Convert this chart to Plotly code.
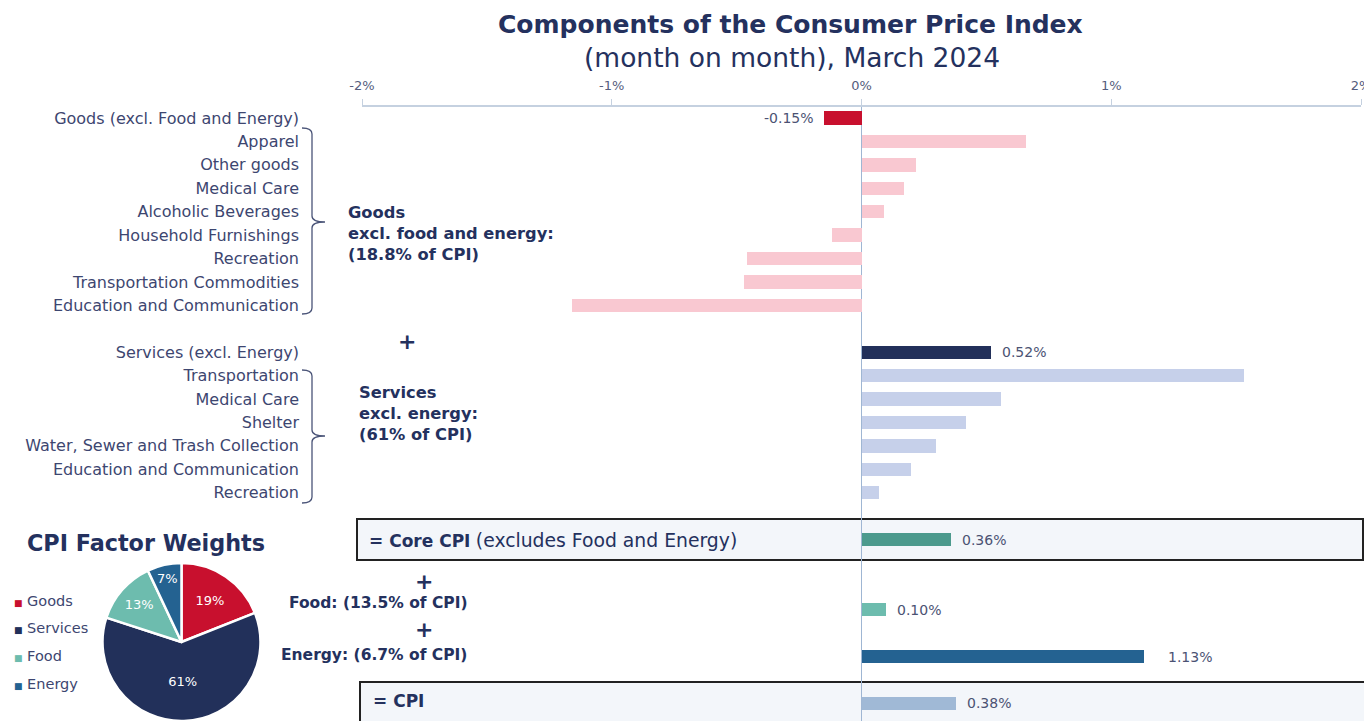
import plotly.graph_objects as go

# ---------------- data ----------------
goods_labels = ["Goods (excl. Food and Energy)", "Apparel", "Other goods", "Medical Care",
                "Alcoholic Beverages", "Household Furnishings", "Recreation",
                "Transportation Commodities", "Education and Communication"]
goods_values = [-0.15, 0.66, 0.22, 0.17, 0.09, -0.12, -0.46, -0.47, -1.16]

services_labels = ["Services (excl. Energy)", "Transportation", "Medical Care", "Shelter",
                   "Water, Sewer and Trash Collection", "Education and Communication", "Recreation"]
services_values = [0.52, 1.53, 0.56, 0.42, 0.30, 0.20, 0.07]

aggregate_labels = ["Core CPI", "Food", "Energy", "CPI"]
aggregate_values = [0.36, 0.10, 1.13, 0.38]

tick_values = [-2, -1, 0, 1, 2]
tick_labels = ["-2%", "-1%", "0%", "1%", "2%"]

pie_labels = ["Goods", "Services", "Food", "Energy"]
pie_values = [19, 61, 13, 7]

# ---------------- styling ----------------
FONT = "DejaVu Sans"
NAVY = "#24315e"
TXT = "#3d4670"
C_GOODS, C_GOODS_L = "#c8102e", "#f9c8d1"
C_SERV, C_SERV_L = "#22305a", "#c6d0ea"
C_CORE, C_FOOD, C_ENERGY, C_CPI = "#4c9a8d", "#6dbcae", "#246291", "#a0b9d6"

# page body has an 8px margin: figure sits at (8, 8) in the window
OFF = 8
W, H = 1372 - OFF, 721 - OFF


def px(x):
    return (x - OFF) / W


def py(y):
    return 1 - (y - OFF) / H


goods_rows = list(range(0, 9))
services_rows = list(range(10, 17))
aggregate_rows = [18, 21, 23, 25]

rows = goods_rows + services_rows + aggregate_rows
vals = goods_values + services_values + aggregate_values
colors = ([C_GOODS] + [C_GOODS_L] * 8 + [C_SERV] + [C_SERV_L] * 6 +
          [C_CORE, C_FOOD, C_ENERGY, C_CPI])

fig = go.Figure()
fig.add_trace(go.Bar(
    x=vals, y=rows, orientation="h", width=0.57,
    marker=dict(color=colors, line=dict(width=0)),
    hoverinfo="skip", showlegend=False, xaxis="x", yaxis="y"))

fig.add_trace(go.Pie(
    labels=pie_labels, values=pie_values, sort=False, direction="clockwise",
    rotation=0, marker=dict(colors=[C_GOODS, C_SERV, C_FOOD, C_ENERGY],
                            line=dict(color="white", width=2.5)),
    textinfo="percent", texttemplate="%{percent:.0%}", textposition="inside",
    insidetextorientation="horizontal",
    textfont=dict(family=FONT, size=13, color="white"),
    domain=dict(x=[px(99), px(264)], y=[0, py(563)]),
    showlegend=False, hoverinfo="skip"))

annotations = []


def ann(text, x, y, size, color=NAVY, xanchor="center", yanchor="middle", align="center",
        xref="paper", yref="paper", xshift=0):
    annotations.append(dict(text=text, x=x, y=y, xref=xref, yref=yref, showarrow=False,
                            xanchor=xanchor, yanchor=yanchor, align=align, xshift=xshift,
                            font=dict(family=FONT, size=size, color=color)))


# titles
ann("<b>Components of the Consumer Price Index</b>", px(790), py(24), 25)
ann("(month on month), March 2024", px(792), py(57), 26.5)

# value labels
label_rows = [goods_rows[0], services_rows[0]] + aggregate_rows
label_vals = [goods_values[0], services_values[0]] + aggregate_values
for r, v in zip(label_rows, label_vals):
    shift = 22 if v > 1 else 9
    ann(f"{v:.2f}%", v, r, 14, color="#4b5273", xref="x", yref="y",
        xanchor="right" if v < 0 else "left", xshift=-8 if v < 0 else shift)

# group labels
ann("<b>Goods<br>excl. food and energy:<br>(18.8% of CPI)</b>", px(346), py(233), 16.3,
    xanchor="left", align="left")
ann("<b>Services<br>excl. energy:<br>(61% of CPI)</b>", px(357), py(413), 16.3,
    xanchor="left", align="left")
for (xx, yy) in [(407, 341), (424, 581), (424, 629)]:
    ann("<b>+</b>", px(xx), py(yy), 22)
ann("<b>Food: (13.5% of CPI)</b>", px(378), py(603), 15.5)
ann("<b>Energy: (6.7% of CPI)</b>", px(374), py(655), 15.5)
ann("<b>= Core CPI</b> <span style='font-size:18.8px'>(excludes Food and Energy)</span>",
    px(367), py(540), 17, xanchor="left")
ann("<b>= CPI</b>", px(371), py(701), 17, xanchor="left")

# pie title and legend
ann("<b>CPI Factor Weights</b>", px(146), py(543), 22.3)
for lab, col, yy in zip(pie_labels, [C_GOODS, C_SERV, C_FOOD, C_ENERGY], [601, 628, 656, 684]):
    ann(f"<span style='color:{col};font-size:9px'>■</span> {lab}", px(12), py(yy), 14.5,
        color=TXT, xanchor="left")

# shapes: boxes and brackets
shapes = []
shapes.append(dict(type="rect", xref="paper", yref="paper", x0=px(357), x1=px(1363),
                   y0=py(560), y1=py(519), fillcolor="#f3f6fa",
                   line=dict(color="#222222", width=2), layer="below"))
shapes.append(dict(type="rect", xref="paper", yref="paper", x0=px(360), x1=px(1365),
                   y0=py(735), y1=py(682), fillcolor="#f3f6fa",
                   line=dict(color="#222222", width=2), layer="below"))


def bracket(top, mid, bot):
    xl, xv, xn = px(302), px(312), px(325)
    t, m, b = py(top), py(mid), py(bot)
    d = 6 / H
    return (f"M {xl},{t} Q {xv},{t} {xv},{t - d} L {xv},{m + d} Q {xv},{m} {xn},{m} "
            f"Q {xv},{m} {xv},{m - d} L {xv},{b + d} Q {xv},{b} {xl},{b}")


for (a, m, b) in [(128, 222, 314), (370, 436, 503)]:
    shapes.append(dict(type="path", xref="paper", yref="paper", path=bracket(a, m, b),
                       line=dict(color="#4a5478", width=1.3)))

tick_rows = goods_rows + services_rows
tick_text = goods_labels + services_labels

fig.update_layout(
    width=W, height=H, margin=dict(l=0, r=0, t=0, b=0),
    paper_bgcolor="white", plot_bgcolor="rgba(0,0,0,0)",
    font=dict(family=FONT, color=TXT),
    bargap=0,
    xaxis=dict(domain=[px(362), px(1361)], range=[-2, 2], side="top",
               tickvals=tick_values, ticktext=tick_labels, showgrid=False,
               showline=True, linecolor="#c5d1e0", linewidth=1.5,
               ticks="outside", ticklen=6, tickcolor="#c5d1e0", ticklabelstandoff=4,
               tickfont=dict(family=FONT, size=13, color="#555d7d"),
               zeroline=True, zerolinecolor="#9fb6d3", zerolinewidth=1,
               automargin=False, fixedrange=True),
    yaxis=dict(domain=[0, py(107)], range=[25.75, -0.47],
               tickvals=tick_rows, ticktext=tick_text, showgrid=False, showline=False,
               zeroline=False, ticks="", ticklabelstandoff=62,
               tickfont=dict(family=FONT, size=16, color=TXT),
               automargin=False, fixedrange=True),
    annotations=annotations, shapes=shapes,
)

fig.write_html("out.html")
